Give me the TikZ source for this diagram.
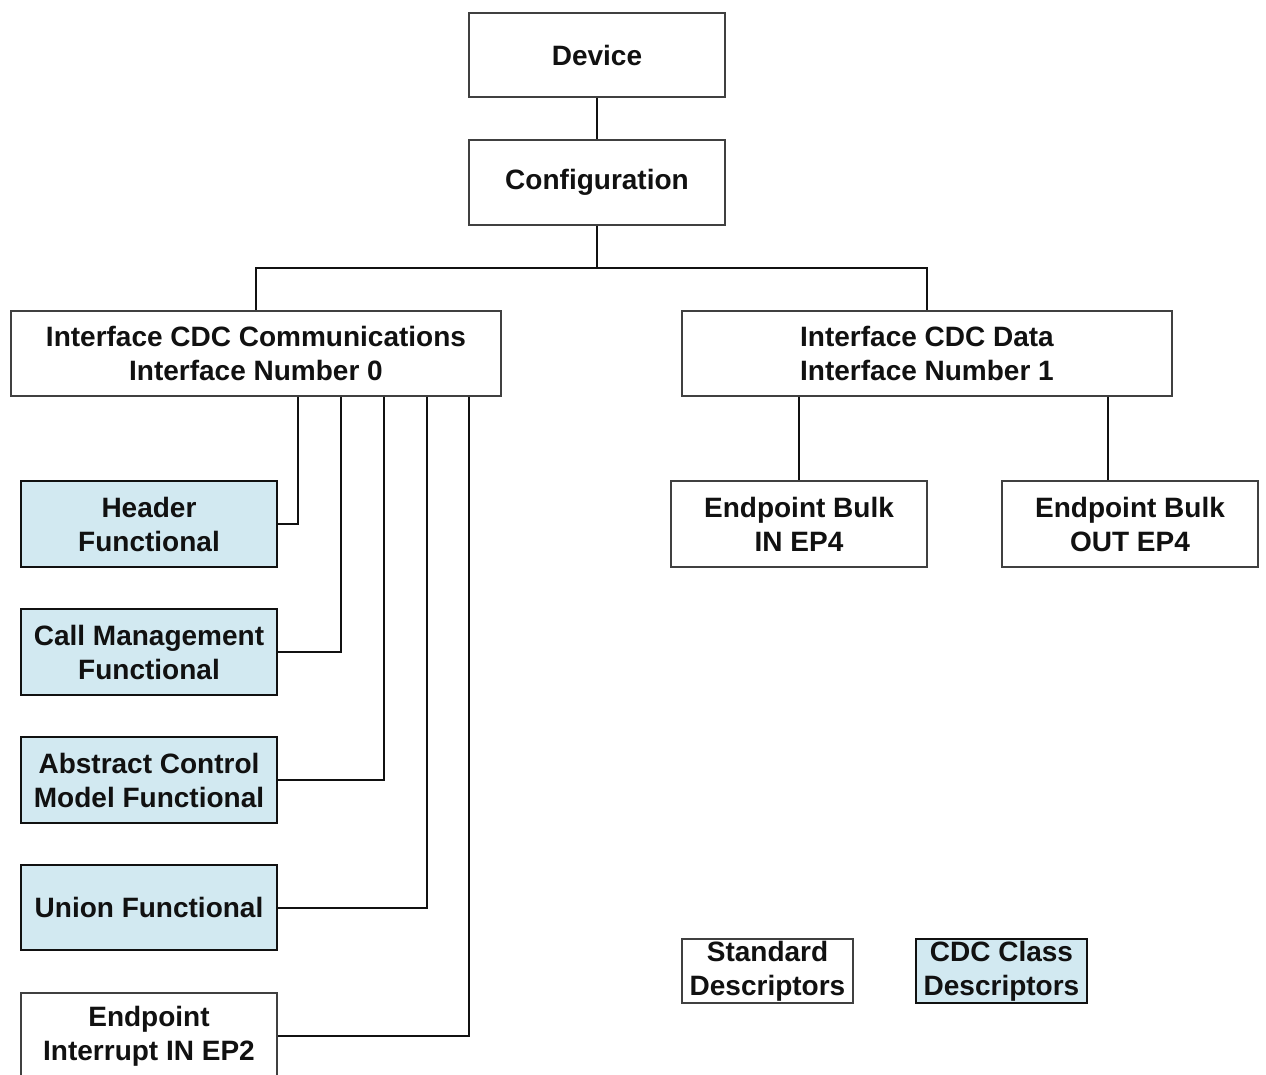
\documentclass[tikz,border=0pt]{standalone}
\usepackage{fontspec}
\setmainfont{Liberation Sans}
\definecolor{cdcblue}{RGB}{210,233,241}
\definecolor{ink}{RGB}{17,17,17}
\begin{document}
\begin{tikzpicture}[x=1pt,y=-1pt,
  base/.style={rectangle, inner sep=0pt, align=center, text=ink,
    font=\fontsize{28}{34}\selectfont\bfseries},
  stdbox/.style={base, draw=black!75, line width=1.2pt, fill=white},
  cdcbox/.style={base, draw=ink, line width=2.2pt, fill=cdcblue},
  wire/.style={draw=ink, line width=2pt}]
\useasboundingbox (0,0) rectangle (1266,1074);
\fill[white] (0,0) rectangle (1266,1074);
% nodes
\node[stdbox, minimum width=256, minimum height=84] (dev) at (597,55) {Device};
\node[stdbox, minimum width=256, minimum height=85] (conf) at (597,182.5) {Configuration};
\node[stdbox, minimum width=490, minimum height=85] (comm) at (256,353.5) {Interface CDC Communications\\Interface Number 0};
\node[stdbox, minimum width=490, minimum height=85] (data) at (927,353.5) {Interface CDC Data\\Interface Number 1};
\node[cdcbox, minimum width=256, minimum height=86] (hdr) at (149,524) {Header\\Functional};
\node[cdcbox, minimum width=256, minimum height=86] (call) at (149,652) {Call Management\\Functional};
\node[cdcbox, minimum width=256, minimum height=86] (acm) at (149,780) {Abstract Control\\Model Functional};
\node[cdcbox, minimum width=256, minimum height=85] (union) at (149,907.5) {Union Functional};
\node[stdbox, minimum width=256, minimum height=86] (ep2) at (149,1036) {Endpoint\\Interrupt IN EP2};
\node[stdbox, minimum width=256, minimum height=86] (bin) at (799,524) {Endpoint Bulk\\IN EP4};
\node[stdbox, minimum width=256, minimum height=86] (bout) at (1130,524) {Endpoint Bulk\\OUT EP4};
\node[stdbox, minimum width=171, minimum height=64] (std) at (767.5,971) {Standard\\Descriptors};
\node[cdcbox, minimum width=171, minimum height=64] (cdc) at (1001.5,971) {CDC Class\\Descriptors};
% connectors
\coordinate (split) at (597,268);
\draw[wire] (dev.south) -- (conf.north);
\draw[wire] (conf.south) -- (split);
\draw[wire] (split) -| (comm.north);
\draw[wire] (split) -| (data.north);
\draw[wire] ([xshift=42]comm.south) |- (hdr.east);
\draw[wire] ([xshift=85]comm.south) |- (call.east);
\draw[wire] ([xshift=128]comm.south) |- (acm.east);
\draw[wire] ([xshift=171]comm.south) |- (union.east);
\draw[wire] ([xshift=213]comm.south) |- (ep2.east);
\draw[wire] (bin.north |- data.south) -- (bin.north);
\draw[wire] ([xshift=-22]bout.north |- data.south) -- ([xshift=-22]bout.north);
\end{tikzpicture}
\end{document}
